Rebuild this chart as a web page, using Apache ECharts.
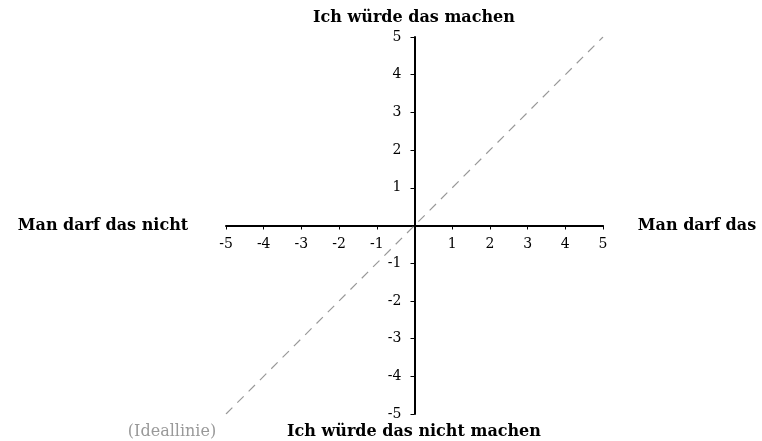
<!DOCTYPE html>
<html>
<head>
<meta charset="utf-8">
<script src="https://cdn.jsdelivr.net/npm/echarts@6/dist/echarts.min.js"></script>
<style>
  html, body { margin: 0; padding: 0; background: #fff; }
  #chart { width: 762px; height: 441px; }
</style>
</head>
<body>
<div id="chart"></div>
<script>
// ideal line goes corner to corner
const idealX = [-5, 5];
const idealY = [-5, 5];
const axisMin = -5;
const axisMax = 5;
const labelTop = 'Ich würde das machen';
const labelBottom = 'Ich würde das nicht machen';
const labelLeft = 'Man darf das nicht';
const labelRight = 'Man darf das';
const labelIdeal = '(Ideallinie)';

const serif = '"DejaVu Serif", serif';
const chart = echarts.init(document.getElementById('chart'));

const hideZero = (v) => (v === 0 ? '' : String(v));

// grid is 377 x 377, axes cross in the middle
const half = 377 / 2;

const boldText = (text, x, y, color, weight) => ({
  type: 'text',
  x,
  y,
  style: {
    text,
    fill: color || '#000',
    font: `${weight || 'bold'} 16px ${serif}`,
    align: 'center',
    verticalAlign: 'middle',
  },
});

chart.setOption({
  animation: false,
  grid: { left: 226, right: 159, top: 37, bottom: 27 },
  graphic: [
    boldText(labelTop, 414, 18),
    boldText(labelBottom, 414, 432),
    boldText(labelLeft, 103, 226),
    boldText(labelRight, 697, 226),
    boldText(labelIdeal, 172, 432, '#999', 'normal'),
  ],
  xAxis: {
    type: 'value', min: axisMin, max: axisMax, interval: 1,
    position: 'bottom', offset: -half,
    axisLine: { onZero: false, lineStyle: { color: '#000', width: 2 } },
    axisTick: { show: true, length: 4, lineStyle: { color: '#000', width: 1 } },
    axisLabel: { formatter: hideZero, margin: 12, color: '#000', fontFamily: serif, fontSize: 14 },
    splitLine: { show: false },
  },
  yAxis: {
    type: 'value', min: axisMin, max: axisMax, interval: 1,
    position: 'left', offset: -half,
    axisLine: { onZero: false, lineStyle: { color: '#000', width: 2 } },
    axisTick: { show: true, length: 4, lineStyle: { color: '#000', width: 1 } },
    axisLabel: { formatter: hideZero, margin: 13, color: '#000', fontFamily: serif, fontSize: 14 },
    splitLine: { show: false },
  },
  series: [{
    type: 'line',
    data: idealX.map((x, i) => [x, idealY[i]]),
    symbol: 'none',
    lineStyle: { color: '#999', width: 1.2, type: [9, 7] },
    z: 1,
  }],
});
</script>
</body>
</html>
